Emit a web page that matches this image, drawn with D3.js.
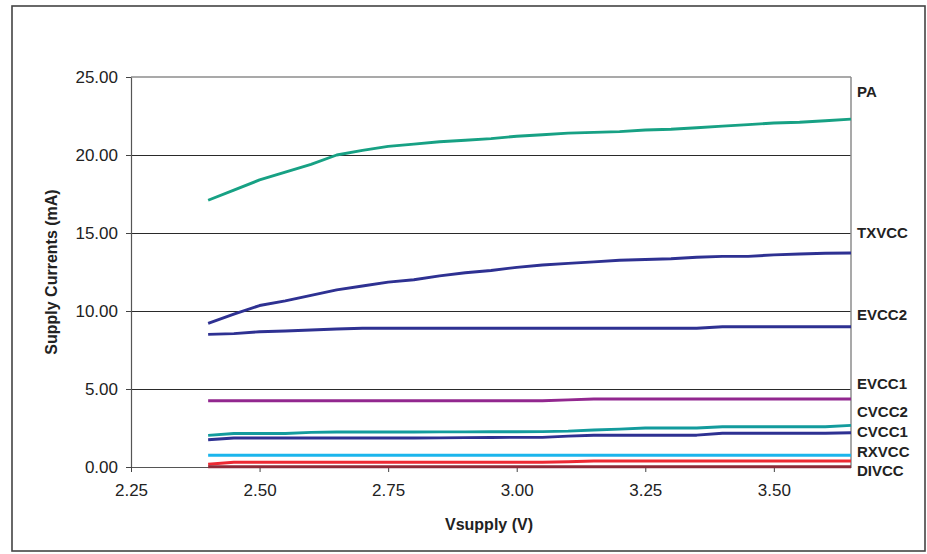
<!DOCTYPE html>
<html>
<head>
<meta charset="utf-8">
<script src="https://cdn.jsdelivr.net/npm/d3@7/dist/d3.min.js"></script>
<style>
  html, body { margin: 0; padding: 0; background: #fff; }
  svg { display: block; font-family: "Liberation Sans", Arial, sans-serif; }
</style>
</head>
<body>
<svg id="chart" width="927" height="554"></svg>
<script>
// ---- data ----
const vsupply = [2.40, 2.45, 2.50, 2.55, 2.60, 2.65, 2.70, 2.75, 2.80, 2.85, 2.90, 2.95, 3.00,
                 3.05, 3.10, 3.15, 3.20, 3.25, 3.30, 3.35, 3.40, 3.45, 3.50, 3.55, 3.60, 3.65];
const PA     = [17.1, 17.75, 18.4, 18.9, 19.4, 20.0, 20.3, 20.55, 20.7, 20.85, 20.95, 21.05, 21.2,
                21.3, 21.4, 21.45, 21.5, 21.6, 21.65, 21.75, 21.85, 21.95, 22.05, 22.1, 22.2, 22.3];
const TXVCC  = [9.2, 9.8, 10.35, 10.65, 11.0, 11.35, 11.6, 11.85, 12.0, 12.25, 12.45, 12.6, 12.8,
                12.95, 13.05, 13.15, 13.25, 13.3, 13.35, 13.45, 13.5, 13.5, 13.6, 13.65, 13.7, 13.72];
const EVCC2  = [8.5, 8.55, 8.67, 8.72, 8.78, 8.85, 8.89, 8.89, 8.89, 8.89, 8.89, 8.89, 8.89,
                8.89, 8.89, 8.89, 8.89, 8.89, 8.89, 8.89, 8.99, 8.99, 8.99, 8.99, 8.99, 8.99];
const EVCC1  = [4.25, 4.25, 4.25, 4.25, 4.25, 4.25, 4.25, 4.25, 4.25, 4.25, 4.25, 4.25, 4.25,
                4.25, 4.3, 4.36, 4.36, 4.36, 4.36, 4.36, 4.36, 4.36, 4.36, 4.36, 4.36, 4.36];
const CVCC2  = [2.03, 2.15, 2.15, 2.15, 2.22, 2.24, 2.24, 2.24, 2.24, 2.25, 2.25, 2.26, 2.26,
                2.27, 2.3, 2.37, 2.43, 2.5, 2.5, 2.5, 2.58, 2.58, 2.58, 2.58, 2.58, 2.67];
const CVCC1  = [1.75, 1.86, 1.86, 1.86, 1.86, 1.86, 1.86, 1.86, 1.86, 1.87, 1.88, 1.89, 1.9,
                1.9, 1.98, 2.04, 2.04, 2.04, 2.04, 2.04, 2.16, 2.16, 2.16, 2.16, 2.16, 2.2];
const RXVCC  = [0.75, 0.75, 0.75, 0.75, 0.75, 0.75, 0.75, 0.75, 0.75, 0.75, 0.75, 0.75, 0.75,
                0.75, 0.75, 0.75, 0.75, 0.75, 0.75, 0.75, 0.75, 0.75, 0.75, 0.75, 0.75, 0.75];
const RED    = [0.18, 0.3, 0.3, 0.3, 0.3, 0.3, 0.3, 0.3, 0.3, 0.3, 0.3, 0.3, 0.3,
                0.3, 0.34, 0.38, 0.38, 0.38, 0.38, 0.38, 0.38, 0.38, 0.38, 0.38, 0.38, 0.38];
const DIVCC  = [0.02, 0.02, 0.02, 0.02, 0.02, 0.02, 0.02, 0.02, 0.02, 0.02, 0.02, 0.02, 0.02,
                0.02, 0.02, 0.02, 0.02, 0.02, 0.02, 0.02, 0.02, 0.02, 0.02, 0.02, 0.02, 0.02];

const yTicks = [0, 5, 10, 15, 20, 25];
const xTicks = [2.25, 2.50, 2.75, 3.00, 3.25, 3.50];
const labelNames = ["PA", "TXVCC", "EVCC2", "EVCC1", "CVCC2", "CVCC1", "RXVCC", "DIVCC"];
const labelYs    = [24.0, 14.92, 9.66, 5.25, 3.46, 2.18, 0.9, -0.33];

const seriesList = [
  { values: PA,    color: "#17a184" },
  { values: TXVCC, color: "#2e3192" },
  { values: EVCC2, color: "#2e3192" },
  { values: EVCC1, color: "#92278f" },
  { values: CVCC2, color: "#139b9d" },
  { values: CVCC1, color: "#2e3192" },
  { values: RXVCC, color: "#1bb5ec" },
  { values: RED,   color: "#ec2a33" },
  { values: DIVCC, color: "#8c2b38" }
];

// ---- layout ----
const svg = d3.select("#chart");
const L = 131, R = 851, T = 77, B = 467;
const x = d3.scaleLinear().domain([2.25, 3.65]).range([L, R]);
const y = d3.scaleLinear().domain([0, 25]).range([B, T]);

// outer frame
svg.append("rect").attr("x", 12).attr("y", 6).attr("width", 913).attr("height", 545)
  .attr("fill", "#fff").attr("stroke", "#444").attr("stroke-width", 1.6);

// gridlines
svg.append("g").selectAll("line").data(yTicks.filter(d => d > 0 && d < 25)).join("line")
  .attr("x1", L).attr("x2", R).attr("y1", d => y(d) + 0.5).attr("y2", d => y(d) + 0.5)
  .attr("stroke", "#2a2a2a").attr("stroke-width", 1).attr("shape-rendering", "crispEdges");

// plot area top & right border
svg.append("line").attr("x1", L).attr("x2", R).attr("y1", y(25)).attr("y2", y(25))
  .attr("stroke", "#8c8c8c").attr("stroke-width", 1.5);
svg.append("line").attr("x1", R).attr("x2", R).attr("y1", T).attr("y2", B)
  .attr("stroke", "#8c8c8c").attr("stroke-width", 1.5);

// axes
const yAxis = svg.append("g").attr("transform", `translate(${L},0)`)
  .call(d3.axisLeft(y).tickValues(yTicks).tickFormat(d3.format(".2f")).tickSize(5).tickSizeOuter(0));
const xAxis = svg.append("g").attr("transform", `translate(0,${B})`)
  .call(d3.axisBottom(x).tickValues(xTicks).tickFormat(d3.format(".2f")).tickSize(5).tickSizeOuter(0));
[yAxis, xAxis].forEach(g => {
  g.select(".domain").attr("stroke", "#555").attr("stroke-width", 1.2);
  g.selectAll(".tick line").attr("stroke", "#444");
  g.selectAll("text").attr("font-size", 17).attr("fill", "#222")
    .attr("font-family", "'Liberation Sans', Arial, sans-serif");
});
yAxis.selectAll("text").attr("x", -13);
xAxis.selectAll("text").attr("y", 17);

// lines
const line = d3.line().x((d, i) => x(vsupply[i])).y(d => y(d));
svg.append("g").selectAll("path").data(seriesList).join("path")
  .attr("d", s => line(s.values))
  .attr("fill", "none").attr("stroke", s => s.color)
  .attr("stroke-width", 2.9).attr("stroke-linejoin", "round");

// right labels
svg.append("g").selectAll("text").data(labelNames).join("text")
  .attr("x", 857).attr("y", (d, i) => y(labelYs[i]))
  .attr("dominant-baseline", "middle")
  .attr("font-size", 15).attr("font-weight", "bold").attr("fill", "#222")
  .text(d => d);

// axis titles
svg.append("text").attr("x", 489).attr("y", 530).attr("text-anchor", "middle")
  .attr("font-size", 16).attr("font-weight", "bold").attr("fill", "#222")
  .text("Vsupply (V)");
svg.append("text").attr("transform", "translate(57,272) rotate(-90)").attr("text-anchor", "middle")
  .attr("font-size", 16).attr("font-weight", "bold").attr("fill", "#222")
  .text("Supply Currents (mA)");
</script>
</body>
</html>
